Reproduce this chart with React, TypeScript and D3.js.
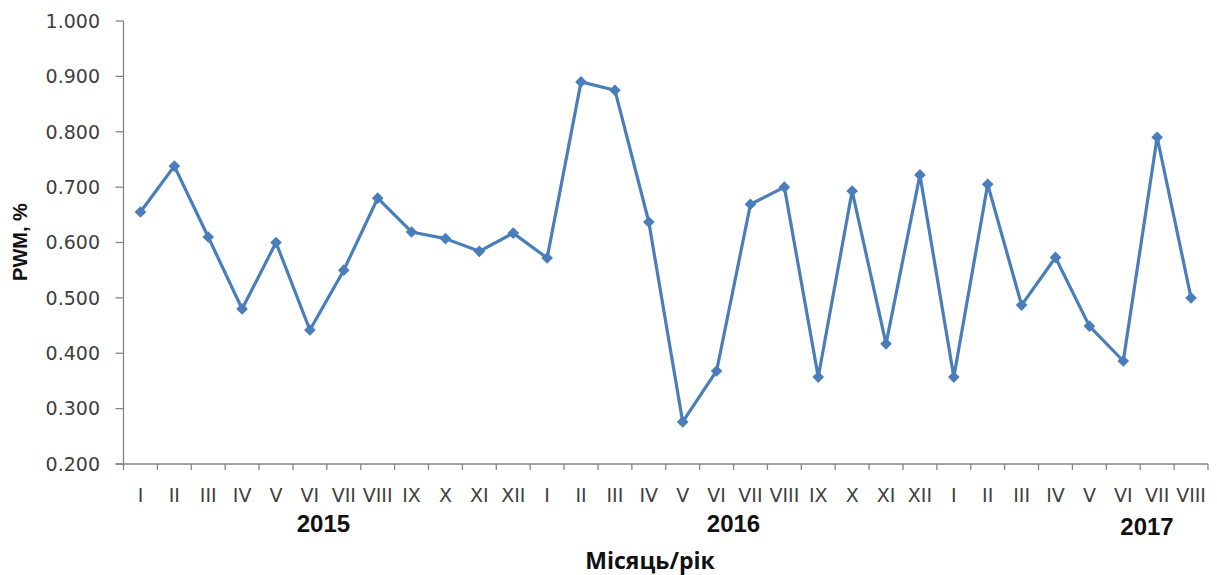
import React from "react";
import * as d3 from "d3";

// Monthly PWM readings, Jan 2015 – Aug 2017
const months: string[] = [
  "I", "II", "III", "IV", "V", "VI", "VII", "VIII", "IX", "X", "XI", "XII",
  "I", "II", "III", "IV", "V", "VI", "VII", "VIII", "IX", "X", "XI", "XII",
  "I", "II", "III", "IV", "V", "VI", "VII", "VIII",
];

const pwmValues: number[] = [
  0.655, 0.738, 0.61, 0.48, 0.6, 0.442, 0.55, 0.68, 0.619, 0.607, 0.584, 0.617,
  0.572, 0.89, 0.875, 0.637, 0.276, 0.368, 0.669, 0.7, 0.357, 0.693, 0.417, 0.722,
  0.357, 0.705, 0.487, 0.573, 0.449, 0.386, 0.79, 0.5,
];

const yTicks: number[] = [0.2, 0.3, 0.4, 0.5, 0.6, 0.7, 0.8, 0.9, 1.0];

// Year captions and the (fractional) month index each one sits under
const years: string[] = ["2015", "2016", "2017"];
const yearAnchorIndex: number[] = [5.4, 17.5, 29.7];

const W = 1217;
const H = 575;
const left = 123.5;
const right = 1208;
const top = 21;
const bottom = 464;

const lineColor = "#4A7EBB";
const axisColor = "#868686";
const textColor = "#404040";

export default function App() {
  const idx = months.map((_, i) => i);
  const x = d3.scaleBand<number>().domain(idx).range([left, right]).padding(0);
  const y = d3.scaleLinear().domain([0.2, 1.0]).range([bottom, top]);
  const cx = (i: number) => (x(i) as number) + x.bandwidth() / 2;
  const centerAt = (v: number) => left + x.bandwidth() * (v + 0.5);

  const line = d3
    .line<number>()
    .x((_, i) => cx(i))
    .y((d) => y(d));

  // square marker turned 45° gives an even diamond
  const marker = d3.symbol(d3.symbolSquare, 68)() as string;
  const boundaries = d3.range(months.length + 1).map((i) => left + i * x.bandwidth());

  return (
    <svg
      width={W}
      height={H}
      style={{ position: "absolute", left: 0, top: 0, background: "#fff" }}
    >
      {/* y axis */}
      <line x1={left} x2={left} y1={top} y2={bottom} stroke={axisColor} strokeWidth={1.3} />
      {yTicks.map((t) => (
        <g key={t}>
          <line x1={left - 8} x2={left} y1={y(t)} y2={y(t)} stroke={axisColor} strokeWidth={1.3} />
          <text
            x={100}
            y={y(t)}
            dy="0.36em"
            textAnchor="end"
            fontFamily="DejaVu Sans, sans-serif"
            fontSize={19}
            fill={textColor}
          >
            {d3.format(".3f")(t)}
          </text>
        </g>
      ))}

      {/* x axis */}
      <line x1={left - 8} x2={right} y1={bottom} y2={bottom} stroke={axisColor} strokeWidth={1.3} />
      {boundaries.map((bx, i) => (
        <line key={i} x1={bx} x2={bx} y1={bottom} y2={bottom + 6} stroke={axisColor} strokeWidth={1.3} />
      ))}
      {months.map((m, i) => (
        <text
          key={i}
          x={cx(i)}
          y={502}
          textAnchor="middle"
          fontFamily="DejaVu Sans, sans-serif"
          fontSize={19}
          fill={textColor}
        >
          {m}
        </text>
      ))}
      {years.map((yr, k) => (
        <text
          key={yr}
          x={centerAt(yearAnchorIndex[k])}
          y={k === 2 ? 535 : 532}
          textAnchor="middle"
          fontFamily="Liberation Sans, Arial, sans-serif"
          fontWeight="bold"
          fontSize={24}
          fill="#111"
        >
          {yr}
        </text>
      ))}

      {/* axis titles */}
      <text
        x={650}
        y={569}
        textAnchor="middle"
        fontFamily="Open Sans, sans-serif"
        fontWeight="bold"
        fontSize={23}
        fill="#111"
      >
        Місяць/рік
      </text>
      <text
        transform={`translate(27,242) rotate(-90)`}
        textAnchor="middle"
        fontFamily="Liberation Sans, Arial, sans-serif"
        fontWeight="bold"
        fontSize={20}
        fill="#111"
      >
        PWM, %
      </text>

      {/* series */}
      <path d={line(pwmValues) as string} fill="none" stroke={lineColor} strokeWidth={3.2} strokeLinejoin="round" />
      {pwmValues.map((v, i) => (
        <path key={i} d={marker} transform={`translate(${cx(i)},${y(v)}) rotate(45)`} fill={lineColor} />
      ))}
    </svg>
  );
}
